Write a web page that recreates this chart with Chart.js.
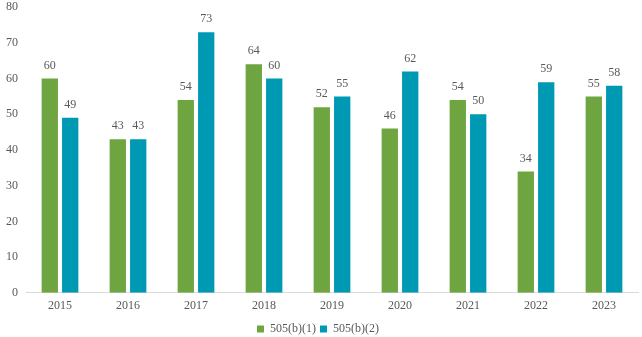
<!DOCTYPE html>
<html>
<head>
<meta charset="utf-8">
<script src="https://cdn.jsdelivr.net/npm/chart.js@4/dist/chart.umd.min.js"></script>
<style>
  html, body { margin: 0; padding: 0; background: #fff; }
  #wrap { width: 642px; height: 337px; position: relative; overflow: hidden; }
  #inner { position: absolute; left: 0; top: -8px; width: 642px; height: 347px; }
</style>
</head>
<body>
<div id="wrap"><div id="inner"><canvas id="chart"></canvas></div></div>
<script>
const years = ['2015', '2016', '2017', '2018', '2019', '2020', '2021', '2022', '2023'];
const seriesB1 = [60, 43, 54, 64, 52, 46, 54, 34, 55];
const seriesB2 = [49, 43, 73, 60, 55, 62, 50, 59, 58];
const yTicks = [0, 10, 20, 30, 40, 50, 60, 70, 80];

const textColor = '#595959';
const fontFamily = '"Liberation Serif", "Times New Roman", serif';

// draws the number above each bar
const valueLabels = {
    id: 'valueLabels',
    afterDatasetsDraw(chart) {
        const ctx = chart.ctx;
        ctx.save();
        ctx.font = '12px ' + fontFamily;
        ctx.fillStyle = textColor;
        ctx.textAlign = 'center';
        ctx.textBaseline = 'bottom';
        chart.data.datasets.forEach((ds, i) => {
            chart.getDatasetMeta(i).data.forEach((bar, j) => {
                ctx.fillText(ds.data[j], bar.x, bar.y - 7);
            });
        });
        ctx.restore();
    }
};

new Chart(document.getElementById('chart'), {
    type: 'bar',
    data: {
        labels: years,
        datasets: [
            { label: '505(b)(1)', data: seriesB1, backgroundColor: '#6ea541' },
            { label: '505(b)(2)', data: seriesB2, backgroundColor: '#0099b4' }
        ]
    },
    options: {
        responsive: true,
        maintainAspectRatio: false,
        animation: false,
        layout: { padding: { top: -14, right: 4, left: -2, bottom: -6 } },
        datasets: { bar: { barPercentage: 0.8, categoryPercentage: 0.6 } },
        scales: {
            x: {
                grid: { display: false, drawTicks: false },
                border: { color: '#d9d9d9', width: 1 },
                ticks: { color: textColor, font: { family: fontFamily, size: 12, lineHeight: 0.85 }, padding: 8 }
            },
            y: {
                min: 0, max: 80,
                afterBuildTicks(axis) { axis.ticks = yTicks.map(v => ({ value: v })); },
                grid: { display: false, drawTicks: false },
                border: { display: false },
                ticks: { color: textColor, font: { family: fontFamily, size: 12 }, padding: 8 }
            }
        },
        plugins: {
            legend: {
                position: 'bottom',
                labels: {
                    color: textColor,
                    font: { family: fontFamily, size: 12 },
                    boxWidth: 7, boxHeight: 7, padding: 4
                }
            },
            tooltip: { enabled: false }
        }
    },
    plugins: [valueLabels]
});
</script>
</body>
</html>
